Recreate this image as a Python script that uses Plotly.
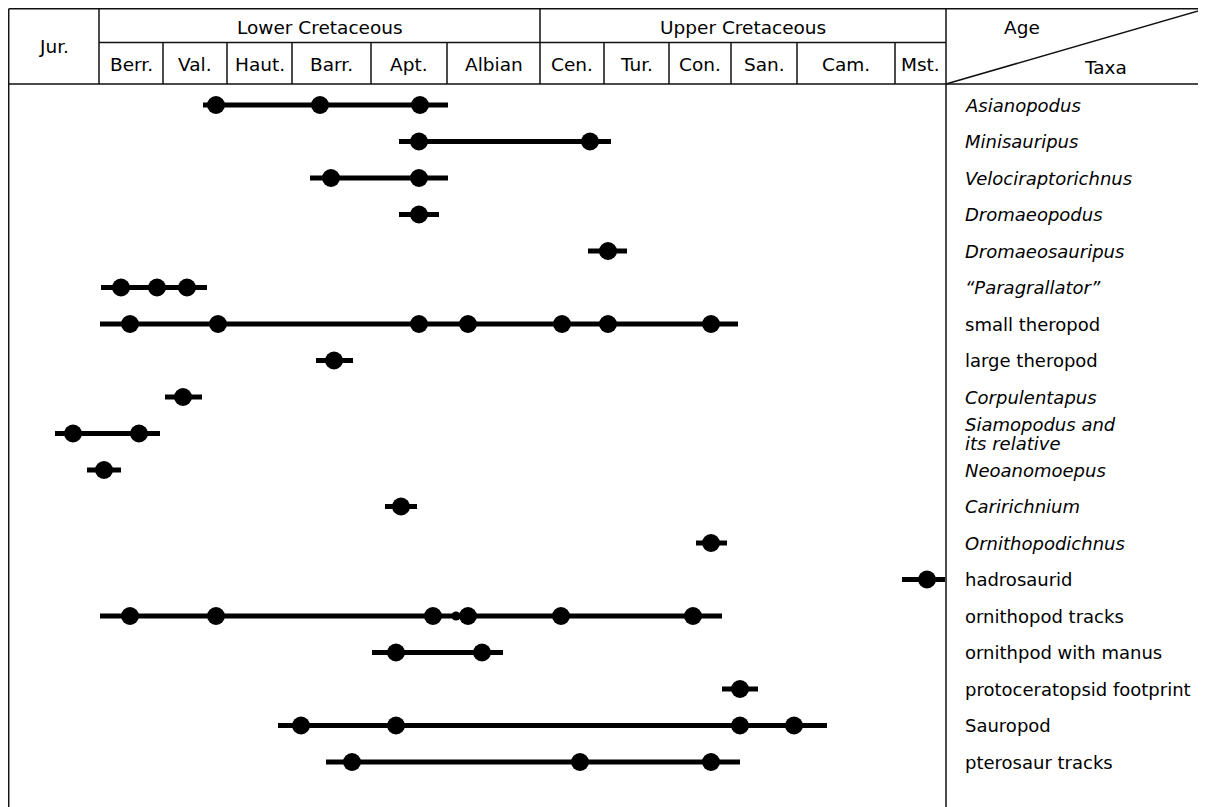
import plotly.graph_objects as go

# ---------------- data ----------------
taxa = [
    "<i>Asianopodus</i>", "<i>Minisauripus</i>", "<i>Velociraptorichnus</i>",
    "<i>Dromaeopodus</i>", "<i>Dromaeosauripus</i>", "<i>“Paragrallator”</i>",
    "small theropod", "large theropod", "<i>Corpulentapus</i>",
    "<i>Siamopodus and</i>|<i>its relative</i>", "<i>Neoanomoepus</i>",
    "<i>Caririchnium</i>", "<i>Ornithopodichnus</i>", "hadrosaurid",
    "ornithopod tracks", "ornithpod with manus", "protoceratopsid footprint",
    "Sauropod", "pterosaur tracks",
]
# relative age position (chart units, left = older)
range_start = [203, 399, 310, 399, 588, 101, 100, 316, 165, 55, 87, 385, 696, 902, 100, 372, 722, 278, 326]
range_end   = [448, 611, 448, 439, 627, 207, 738, 353, 202, 160, 121, 417, 727, 945, 722, 503, 758, 827, 740]
occurrences = [
    [216, 320, 420],
    [419, 590],
    [331, 419],
    [419],
    [608],
    [121, 157, 187],
    [130, 218, 419, 468, 562, 608, 711],
    [334],
    [183],
    [73, 139],
    [104],
    [401],
    [711],
    [927],
    [130, 216, 433, 468, 561, 693],
    [396, 482],
    [740],
    [301, 396, 740, 794],
    [352, 580, 711],
]
minor_points_x = [456]
minor_points_row = [14]

period_names = ["Jur.", "Lower Cretaceous", "Upper Cretaceous"]
period_bounds = [8.7, 99, 540, 946]
stage_names = ["Berr.", "Val.", "Haut.", "Barr.", "Apt.", "Albian",
               "Cen.", "Tur.", "Con.", "San.", "Cam.", "Mst."]
stage_bounds = [99, 163, 227, 292, 371, 447, 540, 604, 669, 731, 797, 895, 946]

# ---------------- figure ----------------
OFF = 8                      # page body margin
W, H = 1206 - OFF, 807 - OFF
FONT = "DejaVu Sans"
n = len(taxa)
row_top_px, row_bot_px = 105 - OFF, 762 - OFF
span = (n - 1) * H / (row_bot_px - row_top_px)
y_top = -row_top_px * span / H
y_bot = y_top + span


def py(p):
    return 1 - (p - OFF) / H


fig = go.Figure()

lx, ly = [], []
for i, (a, b) in enumerate(zip(range_start, range_end)):
    lx += [a, b, None]
    ly += [i, i, None]
fig.add_trace(go.Scatter(x=lx, y=ly, mode="lines",
                         line=dict(color="black", width=5), hoverinfo="skip"))

dx, dy = [], []
for i, occ in enumerate(occurrences):
    dx += occ
    dy += [i] * len(occ)
fig.add_trace(go.Scatter(x=dx, y=dy, mode="markers",
                         marker=dict(color="black", size=18, line=dict(width=0))))
fig.add_trace(go.Scatter(x=minor_points_x, y=minor_points_row, mode="markers",
                         marker=dict(color="black", size=9, line=dict(width=0))))

annotations = []
for i, t in enumerate(taxa):
    parts = t.split("|")
    if len(parts) == 1:
        annotations.append(dict(x=963, y=i, xref="x", yref="y", text=t,
                                xanchor="left", yanchor="middle", showarrow=False,
                                font=dict(family=FONT, size=18, color="black")))
    else:
        for part, sh in zip(parts, [9, -10]):
            annotations.append(dict(x=963, y=i, xref="x", yref="y", text=part,
                                    xanchor="left", yanchor="middle", showarrow=False,
                                    yshift=sh,
                                    font=dict(family=FONT, size=18, color="black")))

HF = dict(family=FONT, size=18.5, color="black")
top_px, mid_px, hb_px = 8.7, 42.5, 84


def hdr(x, ypx, text):
    annotations.append(dict(x=x, y=py(ypx), xref="x", yref="paper", text=text,
                            xanchor="center", yanchor="middle", showarrow=False, font=HF))


hdr((period_bounds[0] + period_bounds[1]) / 2, 47, period_names[0])
for k in (1, 2):
    hdr((period_bounds[k] + period_bounds[k + 1]) / 2, 27, period_names[k])
for k, s in enumerate(stage_names):
    hdr((stage_bounds[k] + stage_bounds[k + 1]) / 2, 64, s)
hdr(1022, 28, "Age")
hdr(1105, 67, "Taxa")

LC = "#111111"
LW = 1.5
shapes = []


def seg(x0, y0, x1, y1):
    shapes.append(dict(type="line", xref="x", yref="paper", x0=x0, x1=x1,
                       y0=py(y0), y1=py(y1), line=dict(color=LC, width=LW)))


seg(period_bounds[0], top_px, 1206, top_px)
seg(period_bounds[1], mid_px, period_bounds[3], mid_px)
seg(period_bounds[0], hb_px, 1206, hb_px)
seg(period_bounds[0], top_px, period_bounds[0], 807)
seg(period_bounds[3], top_px, period_bounds[3], 807)
seg(period_bounds[1], top_px, period_bounds[1], hb_px)
seg(period_bounds[2], top_px, period_bounds[2], hb_px)
for b in stage_bounds[1:-1]:
    if b not in period_bounds:
        seg(b, mid_px, b, hb_px)
seg(period_bounds[3], hb_px, 1206, top_px)

fig.update_layout(
    width=W, height=H, margin=dict(l=0, r=0, t=0, b=0),
    paper_bgcolor="white", plot_bgcolor="white", showlegend=False,
    xaxis=dict(range=[OFF, OFF + W], visible=False, domain=[0, 1], fixedrange=True),
    yaxis=dict(range=[y_bot, y_top], visible=False, domain=[0, 1], fixedrange=True),
    annotations=annotations, shapes=shapes,
)
fig.write_html("out.html")
